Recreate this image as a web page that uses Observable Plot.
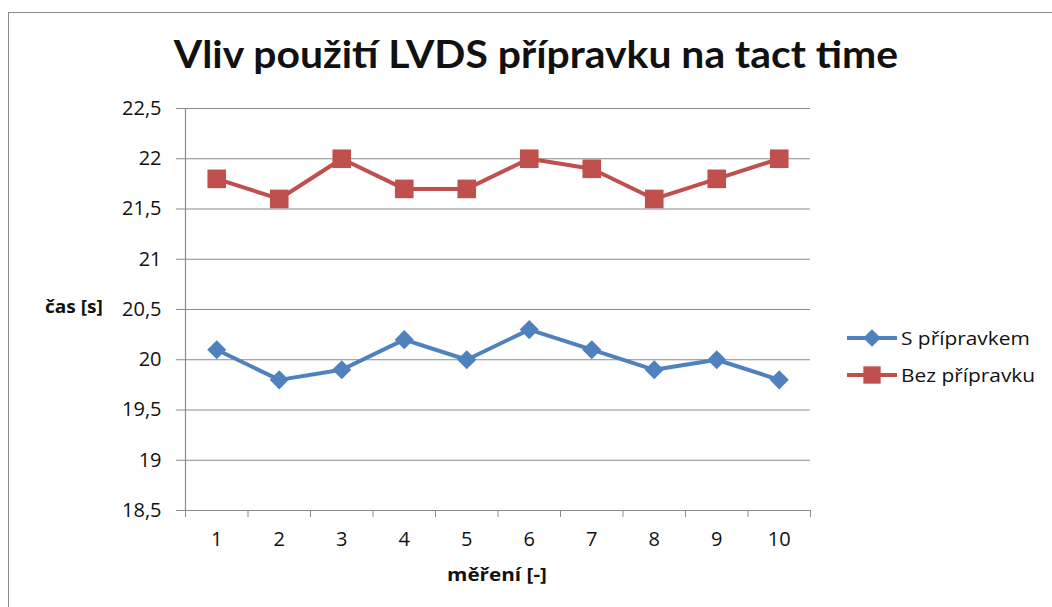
<!DOCTYPE html>
<html><head><meta charset="utf-8">
<script src="https://cdn.jsdelivr.net/npm/d3@7"></script>
<script src="https://cdn.jsdelivr.net/npm/@observablehq/plot@0.6"></script>
<style>
body{margin:0;background:#fff;}
#wrap{position:relative;width:1052px;height:607px;overflow:hidden;font-family:"Open Sans",Lato,sans-serif;color:#111;}
#border{position:absolute;left:8px;top:12px;width:1200px;height:800px;border-left:1.5px solid #8a8a8a;border-top:1.5px solid #8a8a8a;}
#chart{position:absolute;left:0;top:0;}
#title{position:absolute;left:0;width:1072px;top:34px;text-align:center;font-family:Lato,sans-serif;font-weight:bold;font-size:38px;line-height:1;white-space:nowrap;transform:scaleX(1.075);transform-origin:536px 0;}
#ylab{position:absolute;left:45px;top:297px;font-weight:bold;font-size:18px;line-height:1;transform:scaleX(1.06);transform-origin:0 0;}
#xlab{position:absolute;left:0;width:994px;top:565px;text-align:center;font-weight:bold;font-size:18px;line-height:1;transform:scaleX(1.15);transform-origin:497px 0;}
#legend{position:absolute;left:847px;top:319px;font-size:18px;line-height:1;}
.row{display:flex;align-items:center;height:37px;}
.row svg{margin-right:2px;}
.row span{display:inline-block;transform:scaleX(1.16);transform-origin:0 50%;}
</style></head>
<body>
<div id="wrap">
  <div id="border"></div>
  <div id="chart"></div>
  <div id="title">Vliv použití LVDS přípravku na tact time</div>
  <div id="ylab">čas [s]</div>
  <div id="xlab">měření [-]</div>
  <div id="legend"></div>
</div>
<script>
const measurements = [1, 2, 3, 4, 5, 6, 7, 8, 9, 10];
const withJig = [20.1, 19.8, 19.9, 20.2, 20.0, 20.3, 20.1, 19.9, 20.0, 19.8];
const withoutJig = [21.8, 21.6, 22.0, 21.7, 21.7, 22.0, 21.9, 21.6, 21.8, 22.0];
const yTicks = [18.5, 19, 19.5, 20, 20.5, 21, 21.5, 22, 22.5];
const seriesNames = ["S přípravkem", "Bez přípravku"];
const seriesColors = ["#4F81BD", "#C0504D"];
const seriesSymbols = ["diamond2", "square"];

const catBounds = measurements.map(d => d - 0.5).concat([measurements[measurements.length - 1] + 0.5]);
const rows = [];
measurements.forEach((m, i) => {
  rows.push({m, v: withJig[i], s: seriesNames[0]});
  rows.push({m, v: withoutJig[i], s: seriesNames[1]});
});
const fmt = d => String(d).replace(".", ",");
const gridColor = "#8a8a8a";

const plot = Plot.plot({
  width: 1052,
  height: 607,
  marginLeft: 185,
  marginRight: 242,
  marginTop: 108,
  marginBottom: 97,
  style: {fontFamily: "'Open Sans', Lato, sans-serif", background: "transparent", color: "#111"},
  x: {domain: [catBounds[0], catBounds[catBounds.length - 1]], label: null},
  y: {domain: [yTicks[0], yTicks[yTicks.length - 1]], label: null},
  color: {domain: seriesNames, range: seriesColors},
  symbol: {domain: seriesNames, range: seriesSymbols},
  marks: [
    Plot.ruleY(yTicks, {stroke: gridColor, strokeWidth: 1.2}),
    Plot.ruleX([catBounds[0]], {stroke: gridColor, strokeWidth: 1.2}),
    Plot.axisY(yTicks, {label: null, tickSize: 9, tickPadding: 15, tickFormat: fmt, stroke: gridColor, fill: "#111", fontSize: 20}),
    Plot.axisX(catBounds, {label: null, tickSize: 7, tickFormat: () => "", stroke: gridColor}),
    Plot.axisX(measurements, {label: null, tickSize: 0, tickPadding: 21, tickFormat: d => String(d), fill: "#111", fontSize: 20}),
    Plot.line(rows, {x: "m", y: "v", z: "s", stroke: "s", strokeWidth: 4}),
    Plot.dot(rows.filter(r => r.s === seriesNames[0]), {x: "m", y: "v", symbol: "s", fill: "s", r: 8.6}),
    Plot.dot(rows.filter(r => r.s === seriesNames[1]), {x: "m", y: "v", symbol: "s", fill: "s", r: 10.5})
  ]
});
document.getElementById("chart").appendChild(plot);

const legend = document.getElementById("legend");
seriesNames.forEach((name, i) => {
  const row = document.createElement("div");
  row.className = "row";
  const svg = d3.create("svg").attr("width", 52).attr("height", 22);
  svg.append("line").attr("x1", 0).attr("x2", 50).attr("y1", 11).attr("y2", 11)
    .attr("stroke", seriesColors[i]).attr("stroke-width", 4);
  const sym = i === 0 ? d3.symbolDiamond2 : d3.symbolSquare;
  svg.append("path").attr("transform", "translate(25,11)")
    .attr("d", d3.symbol(sym, i === 0 ? 200 : 300)()).attr("fill", seriesColors[i]);
  row.appendChild(svg.node());
  const span = document.createElement("span");
  span.textContent = name;
  row.appendChild(span);
  legend.appendChild(row);
});
</script>
</body></html>
